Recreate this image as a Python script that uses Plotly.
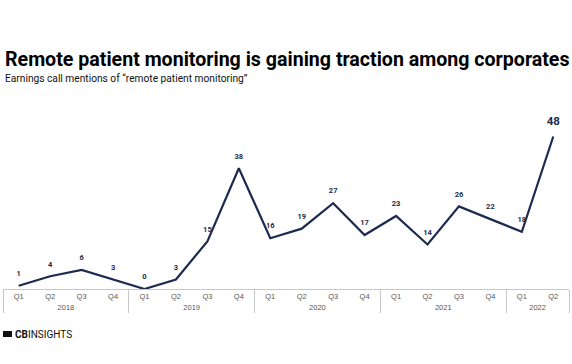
import plotly.graph_objects as go

years = ["2018"] * 4 + ["2019"] * 4 + ["2020"] * 4 + ["2021"] * 4 + ["2022"] * 2
quarters = ["Q1", "Q2", "Q3", "Q4"] * 4 + ["Q1", "Q2"]
mentions = [1, 4, 6, 3, 0, 3, 15, 38, 16, 19, 27, 17, 23, 14, 26, 22, 18, 48]

title = "Remote patient monitoring is gaining traction among corporates"
subtitle = "Earnings call mentions of \u201cremote patient monitoring\u201d"

navy = "#1c2b4f"
labels = [str(v) if i < len(mentions) - 1 else "" for i, v in enumerate(mentions)]

fig = go.Figure()
fig.add_trace(go.Scatter(
    x=[years, quarters], y=mentions, mode="lines+markers+text",
    line=dict(color=navy, width=2.2),
    marker=dict(size=11, color="rgba(0,0,0,0)"),
    text=labels, textposition="top center",
    textfont=dict(family="Roboto", size=7.5, color=navy, weight="bold"),
    hoverinfo="skip", cliponaxis=False,
))
# last point label (bigger)
fig.add_trace(go.Scatter(
    x=[[years[-1]], [quarters[-1]]], y=[mentions[-1]], mode="markers+text",
    marker=dict(size=12, color="rgba(0,0,0,0)"),
    text=["<b>" + str(mentions[-1]) + "</b>"], textposition="top center",
    textfont=dict(family="Roboto", size=11.5, color=navy),
    hoverinfo="skip", cliponaxis=False,
))

fig.update_layout(
    width=572, height=364,
    margin=dict(l=3, r=3, t=100, b=75),
    paper_bgcolor="white", plot_bgcolor="white",
    showlegend=False,
    font=dict(family="Roboto", color="#444"),
)
fig.update_xaxes(
    type="multicategory",
    showline=True, linecolor="#c8c8c8", linewidth=1,
    showgrid=False, ticks="",
    showdividers=True, dividercolor="#c8c8c8", dividerwidth=1,
    tickfont=dict(family="Arial", size=7.5, color="#555"),
    range=[-0.5, 17.5],
)
fig.update_yaxes(visible=False, range=[0, 59.5], fixedrange=True)

fig.add_annotation(
    text="<b>" + title + "</b>", xref="paper", yref="paper",
    x=0, xanchor="left", y=1, yshift=41, yanchor="middle",
    showarrow=False, font=dict(family="Roboto", size=19.6, color="#000"),
)
fig.add_annotation(
    text=subtitle, xref="paper", yref="paper",
    x=0, xanchor="left", y=1, yshift=22, yanchor="middle",
    showarrow=False, font=dict(family="Roboto", size=10.2, color="#111"),
)
# logo
fig.add_shape(type="rect", xref="paper", yref="paper",
              xsizemode="pixel", xanchor=0, x0=0, x1=9,
              ysizemode="pixel", yanchor=0, y0=-42, y1=-48,
              line_width=0, fillcolor="#111")
fig.add_annotation(
    text="<b>CB</b>INSIGHTS", xref="paper", yref="paper",
    x=0, xanchor="left", xshift=10, y=0, yshift=-45, yanchor="middle",
    showarrow=False, font=dict(family="Roboto", size=10, color="#111"),
)

fig.write_html("out.html", config={"displayModeBar": False},
               post_script="document.body.style.margin='0';")
